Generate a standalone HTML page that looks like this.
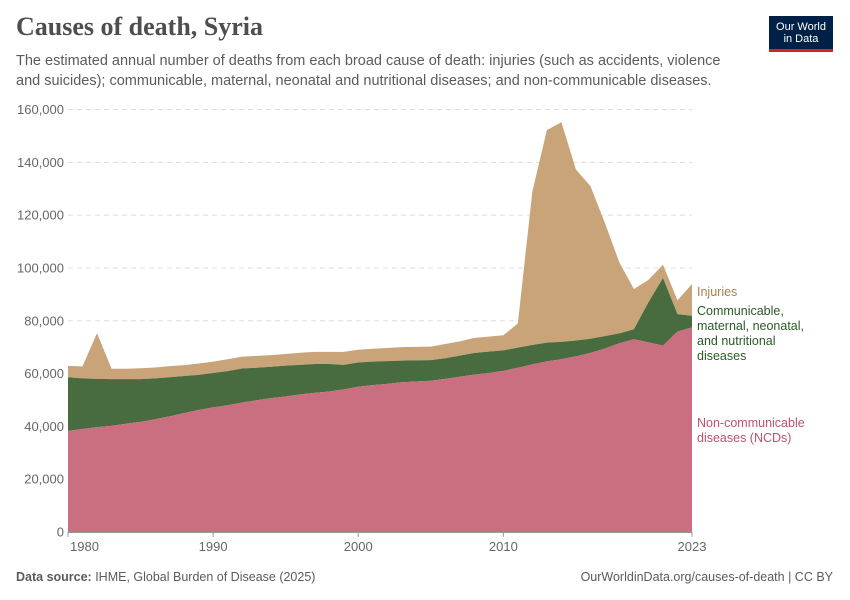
<!DOCTYPE html>
<html><head><meta charset="utf-8">
<style>
body{margin:0;background:#fff;width:850px;height:600px;overflow:hidden;font-family:"Liberation Sans",sans-serif;}
.title{position:absolute;left:16px;top:12px;font-family:"Liberation Serif",serif;font-size:26px;font-weight:bold;color:#4e4e4e;}
.sub{position:absolute;left:16px;top:51px;width:720px;font-size:14.5px;line-height:20px;color:#5b5b5b;}
.logo{position:absolute;left:769px;top:16px;width:64px;height:36px;background:#002147;color:#fff;font-size:11px;line-height:12px;text-align:center;box-sizing:border-box;padding-top:5px;border-bottom:3px solid #ce261e;}
.foot{position:absolute;top:570px;font-size:12.5px;color:#5b5b5b;}
</style></head><body>
<div class="title">Causes of death, Syria</div>
<div class="sub">The estimated annual number of deaths from each broad cause of death: injuries (such as accidents, violence and suicides); communicable, maternal, neonatal and nutritional diseases; and non-communicable diseases.</div>
<div class="logo">Our World<br>in Data</div>
<svg id="chart" width="850" height="600" style="position:absolute;left:0;top:0"></svg>
<div class="foot" style="left:16px"><b>Data source:</b> IHME, Global Burden of Disease (2025)</div>
<div class="foot" style="right:17px">OurWorldinData.org/causes-of-death | CC BY</div>
<script>
const years=[];for(let y=1980;y<=2023;y++)years.push(y);
const ncd=[38.3,39,39.7,40.2,41,41.7,42.7,43.8,45,46.2,47.2,48,49,49.9,50.7,51.3,52.1,52.7,53.2,54,55,55.6,56.1,56.7,57,57.3,58,58.8,59.6,60.2,61,62.2,63.5,64.6,65.4,66.5,67.8,69.5,71.5,73,71.8,70.6,75.9,77.5].map(v=>v*1000);
const communicable=[20.3,19.2,18.3,17.7,16.9,16.2,15.5,14.8,14.1,13.3,13,12.9,12.9,12.3,11.9,11.7,11.2,10.9,10.4,9.3,9.2,8.9,8.6,8.2,8,7.8,7.8,8,8.2,8.1,7.8,7.6,7.3,7.1,6.6,6,5.4,4.7,3.7,3.8,15.2,25.6,6.6,4.4].map(v=>v*1000);
const injuries=[4.3,4.5,17.3,3.9,3.9,4.1,4.1,4.2,4.1,4.3,4.3,4.5,4.5,4.5,4.4,4.4,4.6,4.6,4.6,4.9,4.8,4.9,5,5.1,5.1,5.1,5.4,5.4,5.7,5.7,5.7,9.2,58.2,80.5,83.2,64.8,57.8,42.8,26.8,15.2,8.5,5,5.2,12].map(v=>v*1000);
const yTicks=[0,20000,40000,60000,80000,100000,120000,140000,160000];
const xTicks=[1980,1990,2000,2010,2023];
const X=y=>68+(y-1980)*(692-68)/43;
const Y=v=>532-v*(532-109.5)/160000;
const svg=document.getElementById('chart');
const NS='http://www.w3.org/2000/svg';
function mk(t,a){const e=document.createElementNS(NS,t);for(const k in a)e.setAttribute(k,a[k]);svg.appendChild(e);return e;}
yTicks.forEach(v=>{
  if(v>0){const g=mk('line',{x1:68,x2:692,y1:Y(v),y2:Y(v),stroke:'#ddd','stroke-dasharray':'5,4'});
  
  }
  const t=mk('text',{x:64,y:Y(v)+4.5,'text-anchor':'end','font-size':13,fill:'#666','font-family':'Liberation Sans'});
  t.textContent=v.toLocaleString('en-US');
  
  
});
const c1=ncd, c2=ncd.map((v,i)=>v+communicable[i]), c3=c2.map((v,i)=>v+injuries[i]);
function area(top,bot,fill,name){
  let d='M'+years.map((y,i)=>X(y)+','+Y(top[i])).join('L');
  for(let i=years.length-1;i>=0;i--)d+='L'+X(years[i])+','+Y(bot?bot[i]:0);
  const p=mk('path',{d:d+'Z',fill:fill});
  
  
}
area(c3,c2,'#c8a478','area-injuries');
area(c2,c1,'#486c40','area-communicable');
area(c1,null,'#c96f7f','area-ncd');
const ax=mk('line',{x1:68,x2:692,y1:532.5,y2:532.5,stroke:'#999'});


xTicks.forEach(y=>{
  const tk=mk('line',{x1:X(y),x2:X(y),y1:532,y2:537,stroke:'#999'});
  
  
  const t=mk('text',{x:X(y)+(y===1980?-2:0),y:551,'text-anchor':y===1980?'start':'middle','font-size':13,fill:'#666','font-family':'Liberation Sans'});
  if(y===1980)t.setAttribute('x',70);
  t.textContent=y;
  
  
});
function label(lines,y0,color,name){
  lines.forEach((s,i)=>{const t=mk('text',{x:697,y:y0+i*15,'font-size':12.5,fill:color,'font-family':'Liberation Sans'});t.textContent=s;
  
  });
}
label(['Injuries'],296,'#a6844f','legend-injuries');
label(['Communicable,','maternal, neonatal,','and nutritional','diseases'],315,'#2c5a27','legend-communicable');
label(['Non-communicable','diseases (NCDs)'],427,'#c0506a','legend-ncd');
</script>
</body></html>
